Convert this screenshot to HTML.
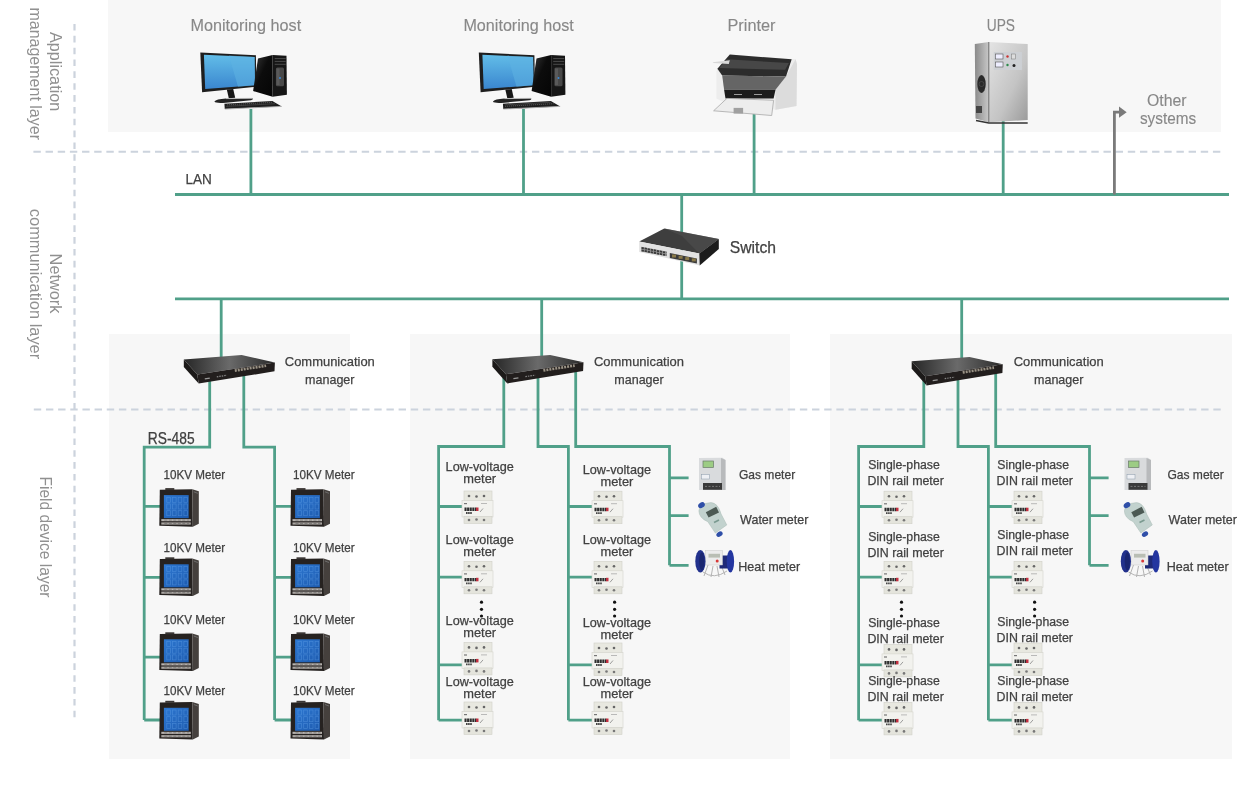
<!DOCTYPE html>
<html><head><meta charset="utf-8"><title>Energy management system architecture</title>
<style>
html,body{margin:0;padding:0;background:#fff;}
body{width:1255px;height:787px;overflow:hidden;font-family:"Liberation Sans",sans-serif;}
svg{display:block;will-change:transform;}
</style></head><body>
<svg width="1255" height="787" viewBox="0 0 1255 787">

<defs>
<linearGradient id="scr" x1="0" y1="0" x2="0" y2="1">
  <stop offset="0" stop-color="#62bde8"/><stop offset="1" stop-color="#3a86cf"/>
</linearGradient>
<linearGradient id="mscr" x1="0" y1="0" x2="1" y2="1">
  <stop offset="0" stop-color="#2d78d2"/><stop offset="1" stop-color="#1d5aae"/>
</linearGradient>
<linearGradient id="cmtop" x1="0" y1="0" x2="1" y2="0">
  <stop offset="0" stop-color="#262626"/><stop offset="0.5" stop-color="#6a6a6a"/><stop offset="1" stop-color="#2a2a2a"/>
</linearGradient>
<linearGradient id="tower" x1="0" y1="0" x2="1" y2="1">
  <stop offset="0" stop-color="#3a3a3a"/><stop offset="0.45" stop-color="#0c0c0c"/><stop offset="1" stop-color="#050505"/>
</linearGradient>
<linearGradient id="upsf" x1="0" y1="0" x2="1" y2="1">
  <stop offset="0" stop-color="#e4e4e4"/><stop offset="0.6" stop-color="#c4c4c4"/><stop offset="1" stop-color="#9a9a9a"/>
</linearGradient>
<linearGradient id="upss" x1="0" y1="0" x2="1" y2="0">
  <stop offset="0" stop-color="#8a8a8a"/><stop offset="1" stop-color="#c8c8c8"/>
</linearGradient>



</defs>

<rect x="108" y="0" width="1113" height="132" fill="#f7f7f7"/>
<rect x="109" y="334" width="241" height="425" fill="#f7f7f7"/>
<rect x="410" y="334" width="380" height="425" fill="#f7f7f7"/>
<rect x="830" y="334" width="402" height="425" fill="#f7f7f7"/>
<path d="M33.4 151.8H1221M33.8 409.6H1221" stroke="#ccd3dd" stroke-width="2" stroke-dasharray="7.4 4.76" fill="none"/>
<path d="M74.5 24V717.7" stroke="#ccd3dd" stroke-width="2.2" stroke-dasharray="6.6 5.24" fill="none"/>
<path d="M175 194.5H1229 M175 298.8H1229 M250.9 109V194.5 M523.5 109V194.5 M754.1 114V194.5 M1003.2 121V194.5 M681.7 194.5V298.8 M221.2 298.8V360 M209.7 378V447.1H144.2V720 M243.8 372V447.1H274.6V720 M144.2 506.3H160 M274.6 506.3H291 M144.2 577.3H160 M274.6 577.3H291 M144.2 657.2H160 M274.6 657.2H291 M144.2 720H160 M274.6 720H291 M541.7 298.8V360 M503.8 378V446.5H438.6V720.2 M538 372V446.5H568.4V720.2 M575.7 370V446.5H669.5V565.3 M438.6 506.5H462 M568.4 506.5H592 M438.6 577.1H462 M568.4 577.1H592 M438.6 664.8H462 M568.4 664.8H592 M438.6 720.2H462 M568.4 720.2H592 M669.5 477.8H688.6 M669.5 515.7H688.6 M669.5 565.3H688.6 M961.7 298.8V360 M923.8 378V446.5H858.6V720.2 M958 372V446.5H988.4V720.2 M995.7 370V446.5H1089.5V565.3 M858.6 506.5H882 M988.4 506.5H1012 M858.6 577.1H882 M988.4 577.1H1012 M858.6 664.8H882 M988.4 664.8H1012 M858.6 720.2H882 M988.4 720.2H1012 M1089.5 477.8H1108.6 M1089.5 515.7H1108.6 M1089.5 565.3H1108.6" stroke="#50a089" stroke-width="2.8" fill="none"/>
<path d="M1114.4 194.5V112.2H1119.5" stroke="#7a7a7a" stroke-width="2.8" fill="none"/>
<polygon points="1119,106.4 1126.7,112.2 1119,117.8" fill="#7a7a7a"/>
<g transform="translate(0,0)">
<polygon points="200.3,52.6 255.9,55.2 256.4,86.8 202.1,92.2" fill="#1e1e1e"/>
<polygon points="203.9,54.8 254.6,57 255,85.3 205.2,89" fill="url(#scr)"/>
<polygon points="229,55.6 254.6,57 255,85.3 238,86.8" fill="#5fb3e2" opacity="0.55"/>
<polygon points="226.8,89.6 233.2,89.1 235.2,97.8 228.8,98.3" fill="#161616"/>
<path d="M214.3 101.8 Q216 99.2 226 98.6 L252.5 98.3 Q253.5 99.6 251 100.3 L226 102.7 Q216 103.5 214.3 101.8Z" fill="#232323"/>
<path d="M226 98.6 L252.5 98.3" stroke="#c8c8c8" stroke-width="0.8" fill="none"/>
<polygon points="258,58.6 272.6,54.9 272.6,96.8 253.1,91.1" fill="url(#tower)"/>
<polygon points="272.6,54.9 286.5,55.7 286.9,94.7 272.6,96.8" fill="#161616"/>
<path d="M274.7 58.6H285.7M274.7 61.4H285.7M274.7 64.3H285.7" stroke="#4a4a4a" stroke-width="1" fill="none"/>
<rect x="275.9" y="67.5" width="8.1" height="18.7" rx="1.5" fill="#484848"/>
<rect x="276.5" y="68.5" width="3" height="16.5" fill="#5a5a5a"/>
<circle cx="280" cy="78.1" r="1" fill="#3a8ad8"/>
<polygon points="224.4,103.7 272.4,101 281.7,106.4 224.8,109.1" fill="#1e1e1e"/>
<path d="M227 104.8 L272 102.3 M226.5 106.3 L275 103.7" stroke="#777" stroke-width="0.6" stroke-dasharray="1.2 0.8" fill="none"/>
<path d="M224.8 109.1 L281.7 106.4" stroke="#b0b0b0" stroke-width="0.9" fill="none"/>
</g>
<g transform="translate(278.5,0)">
<polygon points="200.3,52.6 255.9,55.2 256.4,86.8 202.1,92.2" fill="#1e1e1e"/>
<polygon points="203.9,54.8 254.6,57 255,85.3 205.2,89" fill="url(#scr)"/>
<polygon points="229,55.6 254.6,57 255,85.3 238,86.8" fill="#5fb3e2" opacity="0.55"/>
<polygon points="226.8,89.6 233.2,89.1 235.2,97.8 228.8,98.3" fill="#161616"/>
<path d="M214.3 101.8 Q216 99.2 226 98.6 L252.5 98.3 Q253.5 99.6 251 100.3 L226 102.7 Q216 103.5 214.3 101.8Z" fill="#232323"/>
<path d="M226 98.6 L252.5 98.3" stroke="#c8c8c8" stroke-width="0.8" fill="none"/>
<polygon points="258,58.6 272.6,54.9 272.6,96.8 253.1,91.1" fill="url(#tower)"/>
<polygon points="272.6,54.9 286.5,55.7 286.9,94.7 272.6,96.8" fill="#161616"/>
<path d="M274.7 58.6H285.7M274.7 61.4H285.7M274.7 64.3H285.7" stroke="#4a4a4a" stroke-width="1" fill="none"/>
<rect x="275.9" y="67.5" width="8.1" height="18.7" rx="1.5" fill="#484848"/>
<rect x="276.5" y="68.5" width="3" height="16.5" fill="#5a5a5a"/>
<circle cx="280" cy="78.1" r="1" fill="#3a8ad8"/>
<polygon points="224.4,103.7 272.4,101 281.7,106.4 224.8,109.1" fill="#1e1e1e"/>
<path d="M227 104.8 L272 102.3 M226.5 106.3 L275 103.7" stroke="#777" stroke-width="0.6" stroke-dasharray="1.2 0.8" fill="none"/>
<path d="M224.8 109.1 L281.7 106.4" stroke="#b0b0b0" stroke-width="0.9" fill="none"/>
</g>
<g>
<polygon points="716.4,71.7 717.4,68.8 729.8,54.5 795.6,59.3 797,64.1 796.5,106 775.5,109.8 724.1,102.2 716.4,98.4" fill="#ededed"/>
<polygon points="786,76.5 795.6,59.3 797,64.1 796.5,106 775.5,109.8 775.5,89.8" fill="#dcdcdc"/>
<polygon points="717.4,68.8 729.8,54.5 791.7,59.3 786,76.5 722.2,75.5" fill="#2c2c2c"/>
<polygon points="719.3,67.9 726.9,59.3 788.9,63.1 785.1,69.8" fill="#474747"/>
<polygon points="712.6,62.2 729.8,60.3 728.8,64.1 713.6,63.1" fill="#d8d8d8"/>
<polygon points="722.2,75.5 786,76.5 775.5,89.8 724.1,89.8" fill="#656565"/>
<polygon points="724.1,89.8 775.5,89.8 773.6,98.4 725.5,98.4" fill="#1c1c1c"/>
<path d="M734 94.5H742M754 94.5H762" stroke="#9a9a9a" stroke-width="1.2"/>
<polygon points="713.6,110.8 726.9,98.4 773.6,100.3 771.7,115.5" fill="#ededed" stroke="#a8a8a8" stroke-width="0.8"/>
<rect x="733.6" y="107.9" width="9.5" height="5.7" fill="#a0a0a0"/>
</g>
<g>
<polygon points="974.8,44 988.8,42 988.8,122.3 975.5,118.5" fill="url(#upss)"/>
<polygon points="988.8,42 1027.7,44 1027.7,120 988.8,122.3" fill="url(#upsf)"/>
<rect x="993.8" y="52" width="28.1" height="18" fill="#cdd0d4"/>
<rect x="995.5" y="54" width="7.5" height="5" fill="#eef" stroke="#555" stroke-width="0.6"/>
<rect x="995.5" y="62" width="7.5" height="5" fill="#eef" stroke="#555" stroke-width="0.6"/>
<circle cx="1007.5" cy="56.5" r="1.2" fill="#c33"/>
<circle cx="1007.5" cy="65" r="1.2" fill="#2a8a4a"/>
<circle cx="1014" cy="65.5" r="1.5" fill="#222"/>
<rect x="1011.5" y="54" width="4" height="5" fill="#ddd" stroke="#777" stroke-width="0.5"/>
<ellipse cx="981.5" cy="84" rx="4.2" ry="9" fill="#2a2a2a"/>
<rect x="976" y="106" width="6" height="7" fill="#444"/>
<path d="M988.8 42V122.3" stroke="#6a6a6a" stroke-width="1"/>
<circle cx="981.5" cy="84" r="2.5" fill="none" stroke="#555" stroke-width="0.6"/>
<path d="M976 120.5L988.8 123H1027.7" stroke="#333" stroke-width="1.5" fill="none"/>
</g>
<g>
<polygon points="639.2,241.5 664.3,228.4 718.8,239.1 699.3,253.5" fill="#3e3e3e"/>
<polygon points="664.3,228.4 718.8,239.1 699.3,253.5 682,236" fill="#505050" opacity="0.55"/>
<polygon points="639.2,241.5 699.3,253.5 699.7,265.4 639.2,251.9" fill="#e2e2e2"/>
<polygon points="699.3,253.5 718.8,239.1 718.8,249.1 699.7,265.4" fill="#1c1c1c"/>
<polygon points="641.2,246.7 666.7,251.6 666.7,256.3 641.2,251.4" fill="#9a9a9a"/>
<path d="M641.6 247.9 L666.4 252.7 M641.6 250.4 L666.4 255.2" stroke="#3a3a3a" stroke-width="1.8" stroke-dasharray="2.3 0.8" fill="none"/>
<polygon points="669.8,253 696.9,258.5 696.9,263.4 669.8,258" fill="#3a3a3a"/>
<rect x="672.0" y="254.5" width="4" height="3" fill="#8a7a4a"/>
<rect x="678.6" y="255.8" width="4" height="3" fill="#8a7a4a"/>
<rect x="685.2" y="257.1" width="4" height="3" fill="#8a7a4a"/>
<rect x="691.8" y="258.4" width="4" height="3" fill="#8a7a4a"/>
</g>
<g transform="translate(183.8,355)"><polygon points="0,4.5 57.8,0.1 91.1,7.5 13.5,19.4" fill="url(#cmtop)"/><polygon points="0,4.5 13.5,19.4 14.9,28.6 0,12" fill="#1c1a19"/><polygon points="13.5,19.4 91.1,7.5 90.7,16.3 14.9,28.6" fill="#221e1d"/><path d="M51 15.6 L82.3 10.8" stroke="#b8b0a0" stroke-width="2.6" stroke-dasharray="2 1" opacity="0.8"/><path d="M21 23.8 L26 23.1" stroke="#999" stroke-width="1.3"/><path d="M33 21.8 L43 20.3" stroke="#888" stroke-width="1.2" stroke-dasharray="1.5 1"/></g>
<g transform="translate(492.4,354.8)"><polygon points="0,4.5 57.8,0.1 91.1,7.5 13.5,19.4" fill="url(#cmtop)"/><polygon points="0,4.5 13.5,19.4 14.9,28.6 0,12" fill="#1c1a19"/><polygon points="13.5,19.4 91.1,7.5 90.7,16.3 14.9,28.6" fill="#221e1d"/><path d="M51 15.6 L82.3 10.8" stroke="#b8b0a0" stroke-width="2.6" stroke-dasharray="2 1" opacity="0.8"/><path d="M21 23.8 L26 23.1" stroke="#999" stroke-width="1.3"/><path d="M33 21.8 L43 20.3" stroke="#888" stroke-width="1.2" stroke-dasharray="1.5 1"/></g>
<g transform="translate(911.7,356.8)"><polygon points="0,4.5 57.8,0.1 91.1,7.5 13.5,19.4" fill="url(#cmtop)"/><polygon points="0,4.5 13.5,19.4 14.9,28.6 0,12" fill="#1c1a19"/><polygon points="13.5,19.4 91.1,7.5 90.7,16.3 14.9,28.6" fill="#221e1d"/><path d="M51 15.6 L82.3 10.8" stroke="#b8b0a0" stroke-width="2.6" stroke-dasharray="2 1" opacity="0.8"/><path d="M21 23.8 L26 23.1" stroke="#999" stroke-width="1.3"/><path d="M33 21.8 L43 20.3" stroke="#888" stroke-width="1.2" stroke-dasharray="1.5 1"/></g>
<g transform="translate(159.3,487.8)"><polygon points="0.5,2 33,1.5 33.5,39 0,38" fill="#262220"/><polygon points="33,1.5 39.5,3.5 39.5,36 33.5,39" fill="#45403d"/><path d="M34.5 4 L38.5 5.5" stroke="#777" stroke-width="0.8"/><rect x="4.6" y="7.3" width="24.8" height="23" fill="url(#mscr)"/><rect x="7.5" y="9.5" width="3.6" height="5" fill="none" stroke="#6aa8ee" stroke-width="0.7" opacity="0.45"/><rect x="13.2" y="9.5" width="3.6" height="5" fill="none" stroke="#6aa8ee" stroke-width="0.7" opacity="0.45"/><rect x="18.9" y="9.5" width="3.6" height="5" fill="none" stroke="#6aa8ee" stroke-width="0.7" opacity="0.45"/><rect x="24.6" y="9.5" width="3.6" height="5" fill="none" stroke="#6aa8ee" stroke-width="0.7" opacity="0.45"/><rect x="7.5" y="16.2" width="3.6" height="5" fill="none" stroke="#6aa8ee" stroke-width="0.7" opacity="0.45"/><rect x="13.2" y="16.2" width="3.6" height="5" fill="none" stroke="#6aa8ee" stroke-width="0.7" opacity="0.45"/><rect x="18.9" y="16.2" width="3.6" height="5" fill="none" stroke="#6aa8ee" stroke-width="0.7" opacity="0.45"/><rect x="24.6" y="16.2" width="3.6" height="5" fill="none" stroke="#6aa8ee" stroke-width="0.7" opacity="0.45"/><rect x="7.5" y="22.9" width="3.6" height="5" fill="none" stroke="#6aa8ee" stroke-width="0.7" opacity="0.45"/><rect x="13.2" y="22.9" width="3.6" height="5" fill="none" stroke="#6aa8ee" stroke-width="0.7" opacity="0.45"/><rect x="18.9" y="22.9" width="3.6" height="5" fill="none" stroke="#6aa8ee" stroke-width="0.7" opacity="0.45"/><rect x="24.6" y="22.9" width="3.6" height="5" fill="none" stroke="#6aa8ee" stroke-width="0.7" opacity="0.45"/><polygon points="2,31.3 31.5,31.3 31.5,33.4 2,33.4" fill="#b8b4b0"/><polygon points="2,34.6 31.5,34.6 31.5,36.8 2,36.8" fill="#aaa6a2"/><path d="M5 32.3H30 M5 35.7H30" stroke="#555" stroke-width="0.5" stroke-dasharray="3 1.5"/><rect x="6" y="0.3" width="9" height="2" fill="#3a3634"/></g>
<g transform="translate(159.3,557)"><polygon points="0.5,2 33,1.5 33.5,39 0,38" fill="#262220"/><polygon points="33,1.5 39.5,3.5 39.5,36 33.5,39" fill="#45403d"/><path d="M34.5 4 L38.5 5.5" stroke="#777" stroke-width="0.8"/><rect x="4.6" y="7.3" width="24.8" height="23" fill="url(#mscr)"/><rect x="7.5" y="9.5" width="3.6" height="5" fill="none" stroke="#6aa8ee" stroke-width="0.7" opacity="0.45"/><rect x="13.2" y="9.5" width="3.6" height="5" fill="none" stroke="#6aa8ee" stroke-width="0.7" opacity="0.45"/><rect x="18.9" y="9.5" width="3.6" height="5" fill="none" stroke="#6aa8ee" stroke-width="0.7" opacity="0.45"/><rect x="24.6" y="9.5" width="3.6" height="5" fill="none" stroke="#6aa8ee" stroke-width="0.7" opacity="0.45"/><rect x="7.5" y="16.2" width="3.6" height="5" fill="none" stroke="#6aa8ee" stroke-width="0.7" opacity="0.45"/><rect x="13.2" y="16.2" width="3.6" height="5" fill="none" stroke="#6aa8ee" stroke-width="0.7" opacity="0.45"/><rect x="18.9" y="16.2" width="3.6" height="5" fill="none" stroke="#6aa8ee" stroke-width="0.7" opacity="0.45"/><rect x="24.6" y="16.2" width="3.6" height="5" fill="none" stroke="#6aa8ee" stroke-width="0.7" opacity="0.45"/><rect x="7.5" y="22.9" width="3.6" height="5" fill="none" stroke="#6aa8ee" stroke-width="0.7" opacity="0.45"/><rect x="13.2" y="22.9" width="3.6" height="5" fill="none" stroke="#6aa8ee" stroke-width="0.7" opacity="0.45"/><rect x="18.9" y="22.9" width="3.6" height="5" fill="none" stroke="#6aa8ee" stroke-width="0.7" opacity="0.45"/><rect x="24.6" y="22.9" width="3.6" height="5" fill="none" stroke="#6aa8ee" stroke-width="0.7" opacity="0.45"/><polygon points="2,31.3 31.5,31.3 31.5,33.4 2,33.4" fill="#b8b4b0"/><polygon points="2,34.6 31.5,34.6 31.5,36.8 2,36.8" fill="#aaa6a2"/><path d="M5 32.3H30 M5 35.7H30" stroke="#555" stroke-width="0.5" stroke-dasharray="3 1.5"/><rect x="6" y="0.3" width="9" height="2" fill="#3a3634"/></g>
<g transform="translate(159.3,632)"><polygon points="0.5,2 33,1.5 33.5,39 0,38" fill="#262220"/><polygon points="33,1.5 39.5,3.5 39.5,36 33.5,39" fill="#45403d"/><path d="M34.5 4 L38.5 5.5" stroke="#777" stroke-width="0.8"/><rect x="4.6" y="7.3" width="24.8" height="23" fill="url(#mscr)"/><rect x="7.5" y="9.5" width="3.6" height="5" fill="none" stroke="#6aa8ee" stroke-width="0.7" opacity="0.45"/><rect x="13.2" y="9.5" width="3.6" height="5" fill="none" stroke="#6aa8ee" stroke-width="0.7" opacity="0.45"/><rect x="18.9" y="9.5" width="3.6" height="5" fill="none" stroke="#6aa8ee" stroke-width="0.7" opacity="0.45"/><rect x="24.6" y="9.5" width="3.6" height="5" fill="none" stroke="#6aa8ee" stroke-width="0.7" opacity="0.45"/><rect x="7.5" y="16.2" width="3.6" height="5" fill="none" stroke="#6aa8ee" stroke-width="0.7" opacity="0.45"/><rect x="13.2" y="16.2" width="3.6" height="5" fill="none" stroke="#6aa8ee" stroke-width="0.7" opacity="0.45"/><rect x="18.9" y="16.2" width="3.6" height="5" fill="none" stroke="#6aa8ee" stroke-width="0.7" opacity="0.45"/><rect x="24.6" y="16.2" width="3.6" height="5" fill="none" stroke="#6aa8ee" stroke-width="0.7" opacity="0.45"/><rect x="7.5" y="22.9" width="3.6" height="5" fill="none" stroke="#6aa8ee" stroke-width="0.7" opacity="0.45"/><rect x="13.2" y="22.9" width="3.6" height="5" fill="none" stroke="#6aa8ee" stroke-width="0.7" opacity="0.45"/><rect x="18.9" y="22.9" width="3.6" height="5" fill="none" stroke="#6aa8ee" stroke-width="0.7" opacity="0.45"/><rect x="24.6" y="22.9" width="3.6" height="5" fill="none" stroke="#6aa8ee" stroke-width="0.7" opacity="0.45"/><polygon points="2,31.3 31.5,31.3 31.5,33.4 2,33.4" fill="#b8b4b0"/><polygon points="2,34.6 31.5,34.6 31.5,36.8 2,36.8" fill="#aaa6a2"/><path d="M5 32.3H30 M5 35.7H30" stroke="#555" stroke-width="0.5" stroke-dasharray="3 1.5"/><rect x="6" y="0.3" width="9" height="2" fill="#3a3634"/></g>
<g transform="translate(159.3,700.5)"><polygon points="0.5,2 33,1.5 33.5,39 0,38" fill="#262220"/><polygon points="33,1.5 39.5,3.5 39.5,36 33.5,39" fill="#45403d"/><path d="M34.5 4 L38.5 5.5" stroke="#777" stroke-width="0.8"/><rect x="4.6" y="7.3" width="24.8" height="23" fill="url(#mscr)"/><rect x="7.5" y="9.5" width="3.6" height="5" fill="none" stroke="#6aa8ee" stroke-width="0.7" opacity="0.45"/><rect x="13.2" y="9.5" width="3.6" height="5" fill="none" stroke="#6aa8ee" stroke-width="0.7" opacity="0.45"/><rect x="18.9" y="9.5" width="3.6" height="5" fill="none" stroke="#6aa8ee" stroke-width="0.7" opacity="0.45"/><rect x="24.6" y="9.5" width="3.6" height="5" fill="none" stroke="#6aa8ee" stroke-width="0.7" opacity="0.45"/><rect x="7.5" y="16.2" width="3.6" height="5" fill="none" stroke="#6aa8ee" stroke-width="0.7" opacity="0.45"/><rect x="13.2" y="16.2" width="3.6" height="5" fill="none" stroke="#6aa8ee" stroke-width="0.7" opacity="0.45"/><rect x="18.9" y="16.2" width="3.6" height="5" fill="none" stroke="#6aa8ee" stroke-width="0.7" opacity="0.45"/><rect x="24.6" y="16.2" width="3.6" height="5" fill="none" stroke="#6aa8ee" stroke-width="0.7" opacity="0.45"/><rect x="7.5" y="22.9" width="3.6" height="5" fill="none" stroke="#6aa8ee" stroke-width="0.7" opacity="0.45"/><rect x="13.2" y="22.9" width="3.6" height="5" fill="none" stroke="#6aa8ee" stroke-width="0.7" opacity="0.45"/><rect x="18.9" y="22.9" width="3.6" height="5" fill="none" stroke="#6aa8ee" stroke-width="0.7" opacity="0.45"/><rect x="24.6" y="22.9" width="3.6" height="5" fill="none" stroke="#6aa8ee" stroke-width="0.7" opacity="0.45"/><polygon points="2,31.3 31.5,31.3 31.5,33.4 2,33.4" fill="#b8b4b0"/><polygon points="2,34.6 31.5,34.6 31.5,36.8 2,36.8" fill="#aaa6a2"/><path d="M5 32.3H30 M5 35.7H30" stroke="#555" stroke-width="0.5" stroke-dasharray="3 1.5"/><rect x="6" y="0.3" width="9" height="2" fill="#3a3634"/></g>
<g transform="translate(290.5,487.8)"><polygon points="0.5,2 33,1.5 33.5,39 0,38" fill="#262220"/><polygon points="33,1.5 39.5,3.5 39.5,36 33.5,39" fill="#45403d"/><path d="M34.5 4 L38.5 5.5" stroke="#777" stroke-width="0.8"/><rect x="4.6" y="7.3" width="24.8" height="23" fill="url(#mscr)"/><rect x="7.5" y="9.5" width="3.6" height="5" fill="none" stroke="#6aa8ee" stroke-width="0.7" opacity="0.45"/><rect x="13.2" y="9.5" width="3.6" height="5" fill="none" stroke="#6aa8ee" stroke-width="0.7" opacity="0.45"/><rect x="18.9" y="9.5" width="3.6" height="5" fill="none" stroke="#6aa8ee" stroke-width="0.7" opacity="0.45"/><rect x="24.6" y="9.5" width="3.6" height="5" fill="none" stroke="#6aa8ee" stroke-width="0.7" opacity="0.45"/><rect x="7.5" y="16.2" width="3.6" height="5" fill="none" stroke="#6aa8ee" stroke-width="0.7" opacity="0.45"/><rect x="13.2" y="16.2" width="3.6" height="5" fill="none" stroke="#6aa8ee" stroke-width="0.7" opacity="0.45"/><rect x="18.9" y="16.2" width="3.6" height="5" fill="none" stroke="#6aa8ee" stroke-width="0.7" opacity="0.45"/><rect x="24.6" y="16.2" width="3.6" height="5" fill="none" stroke="#6aa8ee" stroke-width="0.7" opacity="0.45"/><rect x="7.5" y="22.9" width="3.6" height="5" fill="none" stroke="#6aa8ee" stroke-width="0.7" opacity="0.45"/><rect x="13.2" y="22.9" width="3.6" height="5" fill="none" stroke="#6aa8ee" stroke-width="0.7" opacity="0.45"/><rect x="18.9" y="22.9" width="3.6" height="5" fill="none" stroke="#6aa8ee" stroke-width="0.7" opacity="0.45"/><rect x="24.6" y="22.9" width="3.6" height="5" fill="none" stroke="#6aa8ee" stroke-width="0.7" opacity="0.45"/><polygon points="2,31.3 31.5,31.3 31.5,33.4 2,33.4" fill="#b8b4b0"/><polygon points="2,34.6 31.5,34.6 31.5,36.8 2,36.8" fill="#aaa6a2"/><path d="M5 32.3H30 M5 35.7H30" stroke="#555" stroke-width="0.5" stroke-dasharray="3 1.5"/><rect x="6" y="0.3" width="9" height="2" fill="#3a3634"/></g>
<g transform="translate(290.5,557)"><polygon points="0.5,2 33,1.5 33.5,39 0,38" fill="#262220"/><polygon points="33,1.5 39.5,3.5 39.5,36 33.5,39" fill="#45403d"/><path d="M34.5 4 L38.5 5.5" stroke="#777" stroke-width="0.8"/><rect x="4.6" y="7.3" width="24.8" height="23" fill="url(#mscr)"/><rect x="7.5" y="9.5" width="3.6" height="5" fill="none" stroke="#6aa8ee" stroke-width="0.7" opacity="0.45"/><rect x="13.2" y="9.5" width="3.6" height="5" fill="none" stroke="#6aa8ee" stroke-width="0.7" opacity="0.45"/><rect x="18.9" y="9.5" width="3.6" height="5" fill="none" stroke="#6aa8ee" stroke-width="0.7" opacity="0.45"/><rect x="24.6" y="9.5" width="3.6" height="5" fill="none" stroke="#6aa8ee" stroke-width="0.7" opacity="0.45"/><rect x="7.5" y="16.2" width="3.6" height="5" fill="none" stroke="#6aa8ee" stroke-width="0.7" opacity="0.45"/><rect x="13.2" y="16.2" width="3.6" height="5" fill="none" stroke="#6aa8ee" stroke-width="0.7" opacity="0.45"/><rect x="18.9" y="16.2" width="3.6" height="5" fill="none" stroke="#6aa8ee" stroke-width="0.7" opacity="0.45"/><rect x="24.6" y="16.2" width="3.6" height="5" fill="none" stroke="#6aa8ee" stroke-width="0.7" opacity="0.45"/><rect x="7.5" y="22.9" width="3.6" height="5" fill="none" stroke="#6aa8ee" stroke-width="0.7" opacity="0.45"/><rect x="13.2" y="22.9" width="3.6" height="5" fill="none" stroke="#6aa8ee" stroke-width="0.7" opacity="0.45"/><rect x="18.9" y="22.9" width="3.6" height="5" fill="none" stroke="#6aa8ee" stroke-width="0.7" opacity="0.45"/><rect x="24.6" y="22.9" width="3.6" height="5" fill="none" stroke="#6aa8ee" stroke-width="0.7" opacity="0.45"/><polygon points="2,31.3 31.5,31.3 31.5,33.4 2,33.4" fill="#b8b4b0"/><polygon points="2,34.6 31.5,34.6 31.5,36.8 2,36.8" fill="#aaa6a2"/><path d="M5 32.3H30 M5 35.7H30" stroke="#555" stroke-width="0.5" stroke-dasharray="3 1.5"/><rect x="6" y="0.3" width="9" height="2" fill="#3a3634"/></g>
<g transform="translate(290.5,632)"><polygon points="0.5,2 33,1.5 33.5,39 0,38" fill="#262220"/><polygon points="33,1.5 39.5,3.5 39.5,36 33.5,39" fill="#45403d"/><path d="M34.5 4 L38.5 5.5" stroke="#777" stroke-width="0.8"/><rect x="4.6" y="7.3" width="24.8" height="23" fill="url(#mscr)"/><rect x="7.5" y="9.5" width="3.6" height="5" fill="none" stroke="#6aa8ee" stroke-width="0.7" opacity="0.45"/><rect x="13.2" y="9.5" width="3.6" height="5" fill="none" stroke="#6aa8ee" stroke-width="0.7" opacity="0.45"/><rect x="18.9" y="9.5" width="3.6" height="5" fill="none" stroke="#6aa8ee" stroke-width="0.7" opacity="0.45"/><rect x="24.6" y="9.5" width="3.6" height="5" fill="none" stroke="#6aa8ee" stroke-width="0.7" opacity="0.45"/><rect x="7.5" y="16.2" width="3.6" height="5" fill="none" stroke="#6aa8ee" stroke-width="0.7" opacity="0.45"/><rect x="13.2" y="16.2" width="3.6" height="5" fill="none" stroke="#6aa8ee" stroke-width="0.7" opacity="0.45"/><rect x="18.9" y="16.2" width="3.6" height="5" fill="none" stroke="#6aa8ee" stroke-width="0.7" opacity="0.45"/><rect x="24.6" y="16.2" width="3.6" height="5" fill="none" stroke="#6aa8ee" stroke-width="0.7" opacity="0.45"/><rect x="7.5" y="22.9" width="3.6" height="5" fill="none" stroke="#6aa8ee" stroke-width="0.7" opacity="0.45"/><rect x="13.2" y="22.9" width="3.6" height="5" fill="none" stroke="#6aa8ee" stroke-width="0.7" opacity="0.45"/><rect x="18.9" y="22.9" width="3.6" height="5" fill="none" stroke="#6aa8ee" stroke-width="0.7" opacity="0.45"/><rect x="24.6" y="22.9" width="3.6" height="5" fill="none" stroke="#6aa8ee" stroke-width="0.7" opacity="0.45"/><polygon points="2,31.3 31.5,31.3 31.5,33.4 2,33.4" fill="#b8b4b0"/><polygon points="2,34.6 31.5,34.6 31.5,36.8 2,36.8" fill="#aaa6a2"/><path d="M5 32.3H30 M5 35.7H30" stroke="#555" stroke-width="0.5" stroke-dasharray="3 1.5"/><rect x="6" y="0.3" width="9" height="2" fill="#3a3634"/></g>
<g transform="translate(290.5,700.5)"><polygon points="0.5,2 33,1.5 33.5,39 0,38" fill="#262220"/><polygon points="33,1.5 39.5,3.5 39.5,36 33.5,39" fill="#45403d"/><path d="M34.5 4 L38.5 5.5" stroke="#777" stroke-width="0.8"/><rect x="4.6" y="7.3" width="24.8" height="23" fill="url(#mscr)"/><rect x="7.5" y="9.5" width="3.6" height="5" fill="none" stroke="#6aa8ee" stroke-width="0.7" opacity="0.45"/><rect x="13.2" y="9.5" width="3.6" height="5" fill="none" stroke="#6aa8ee" stroke-width="0.7" opacity="0.45"/><rect x="18.9" y="9.5" width="3.6" height="5" fill="none" stroke="#6aa8ee" stroke-width="0.7" opacity="0.45"/><rect x="24.6" y="9.5" width="3.6" height="5" fill="none" stroke="#6aa8ee" stroke-width="0.7" opacity="0.45"/><rect x="7.5" y="16.2" width="3.6" height="5" fill="none" stroke="#6aa8ee" stroke-width="0.7" opacity="0.45"/><rect x="13.2" y="16.2" width="3.6" height="5" fill="none" stroke="#6aa8ee" stroke-width="0.7" opacity="0.45"/><rect x="18.9" y="16.2" width="3.6" height="5" fill="none" stroke="#6aa8ee" stroke-width="0.7" opacity="0.45"/><rect x="24.6" y="16.2" width="3.6" height="5" fill="none" stroke="#6aa8ee" stroke-width="0.7" opacity="0.45"/><rect x="7.5" y="22.9" width="3.6" height="5" fill="none" stroke="#6aa8ee" stroke-width="0.7" opacity="0.45"/><rect x="13.2" y="22.9" width="3.6" height="5" fill="none" stroke="#6aa8ee" stroke-width="0.7" opacity="0.45"/><rect x="18.9" y="22.9" width="3.6" height="5" fill="none" stroke="#6aa8ee" stroke-width="0.7" opacity="0.45"/><rect x="24.6" y="22.9" width="3.6" height="5" fill="none" stroke="#6aa8ee" stroke-width="0.7" opacity="0.45"/><polygon points="2,31.3 31.5,31.3 31.5,33.4 2,33.4" fill="#b8b4b0"/><polygon points="2,34.6 31.5,34.6 31.5,36.8 2,36.8" fill="#aaa6a2"/><path d="M5 32.3H30 M5 35.7H30" stroke="#555" stroke-width="0.5" stroke-dasharray="3 1.5"/><rect x="6" y="0.3" width="9" height="2" fill="#3a3634"/></g>
<g transform="translate(462,490.5)"><rect x="2" y="0.5" width="28" height="10" fill="#e8e8e0" stroke="#d0d0c8" stroke-width="0.6"/><rect x="0" y="10" width="31" height="16.5" fill="#f2f2ee" stroke="#d4d4cc" stroke-width="0.6"/><rect x="2" y="26" width="28" height="7" fill="#e4e4dc" stroke="#d0d0c8" stroke-width="0.6"/><circle cx="7" cy="5.5" r="1.3" fill="#666"/><circle cx="14.5" cy="6" r="1.3" fill="#666"/><circle cx="22" cy="5.5" r="1.3" fill="#666"/><circle cx="7" cy="29.5" r="1.3" fill="#777"/><circle cx="14.5" cy="29" r="1.3" fill="#777"/><circle cx="22" cy="29.5" r="1.3" fill="#777"/><path d="M2.5 18.8H14.2" stroke="#2e2e2e" stroke-width="3.4" stroke-dasharray="2.1 0.5"/><rect x="14" y="17" width="2.5" height="3.5" fill="#c03040"/><path d="M4 22.5H10" stroke="#444" stroke-width="1.8" stroke-dasharray="1.6 0.5"/><path d="M18 21.5L21 18" stroke="#777" stroke-width="0.7"/><path d="M19 13H25" stroke="#aaa" stroke-width="0.8"/><rect x="2" y="12.5" width="3" height="1.2" fill="#777"/></g>
<g transform="translate(462,560.8)"><rect x="2" y="0.5" width="28" height="10" fill="#e8e8e0" stroke="#d0d0c8" stroke-width="0.6"/><rect x="0" y="10" width="31" height="16.5" fill="#f2f2ee" stroke="#d4d4cc" stroke-width="0.6"/><rect x="2" y="26" width="28" height="7" fill="#e4e4dc" stroke="#d0d0c8" stroke-width="0.6"/><circle cx="7" cy="5.5" r="1.3" fill="#666"/><circle cx="14.5" cy="6" r="1.3" fill="#666"/><circle cx="22" cy="5.5" r="1.3" fill="#666"/><circle cx="7" cy="29.5" r="1.3" fill="#777"/><circle cx="14.5" cy="29" r="1.3" fill="#777"/><circle cx="22" cy="29.5" r="1.3" fill="#777"/><path d="M2.5 18.8H14.2" stroke="#2e2e2e" stroke-width="3.4" stroke-dasharray="2.1 0.5"/><rect x="14" y="17" width="2.5" height="3.5" fill="#c03040"/><path d="M4 22.5H10" stroke="#444" stroke-width="1.8" stroke-dasharray="1.6 0.5"/><path d="M18 21.5L21 18" stroke="#777" stroke-width="0.7"/><path d="M19 13H25" stroke="#aaa" stroke-width="0.8"/><rect x="2" y="12.5" width="3" height="1.2" fill="#777"/></g>
<g transform="translate(462,641.9)"><rect x="2" y="0.5" width="28" height="10" fill="#e8e8e0" stroke="#d0d0c8" stroke-width="0.6"/><rect x="0" y="10" width="31" height="16.5" fill="#f2f2ee" stroke="#d4d4cc" stroke-width="0.6"/><rect x="2" y="26" width="28" height="7" fill="#e4e4dc" stroke="#d0d0c8" stroke-width="0.6"/><circle cx="7" cy="5.5" r="1.3" fill="#666"/><circle cx="14.5" cy="6" r="1.3" fill="#666"/><circle cx="22" cy="5.5" r="1.3" fill="#666"/><circle cx="7" cy="29.5" r="1.3" fill="#777"/><circle cx="14.5" cy="29" r="1.3" fill="#777"/><circle cx="22" cy="29.5" r="1.3" fill="#777"/><path d="M2.5 18.8H14.2" stroke="#2e2e2e" stroke-width="3.4" stroke-dasharray="2.1 0.5"/><rect x="14" y="17" width="2.5" height="3.5" fill="#c03040"/><path d="M4 22.5H10" stroke="#444" stroke-width="1.8" stroke-dasharray="1.6 0.5"/><path d="M18 21.5L21 18" stroke="#777" stroke-width="0.7"/><path d="M19 13H25" stroke="#aaa" stroke-width="0.8"/><rect x="2" y="12.5" width="3" height="1.2" fill="#777"/></g>
<g transform="translate(462,701.5)"><rect x="2" y="0.5" width="28" height="10" fill="#e8e8e0" stroke="#d0d0c8" stroke-width="0.6"/><rect x="0" y="10" width="31" height="16.5" fill="#f2f2ee" stroke="#d4d4cc" stroke-width="0.6"/><rect x="2" y="26" width="28" height="7" fill="#e4e4dc" stroke="#d0d0c8" stroke-width="0.6"/><circle cx="7" cy="5.5" r="1.3" fill="#666"/><circle cx="14.5" cy="6" r="1.3" fill="#666"/><circle cx="22" cy="5.5" r="1.3" fill="#666"/><circle cx="7" cy="29.5" r="1.3" fill="#777"/><circle cx="14.5" cy="29" r="1.3" fill="#777"/><circle cx="22" cy="29.5" r="1.3" fill="#777"/><path d="M2.5 18.8H14.2" stroke="#2e2e2e" stroke-width="3.4" stroke-dasharray="2.1 0.5"/><rect x="14" y="17" width="2.5" height="3.5" fill="#c03040"/><path d="M4 22.5H10" stroke="#444" stroke-width="1.8" stroke-dasharray="1.6 0.5"/><path d="M18 21.5L21 18" stroke="#777" stroke-width="0.7"/><path d="M19 13H25" stroke="#aaa" stroke-width="0.8"/><rect x="2" y="12.5" width="3" height="1.2" fill="#777"/></g>
<g transform="translate(592,490.7)"><rect x="2" y="0.5" width="28" height="10" fill="#e8e8e0" stroke="#d0d0c8" stroke-width="0.6"/><rect x="0" y="10" width="31" height="16.5" fill="#f2f2ee" stroke="#d4d4cc" stroke-width="0.6"/><rect x="2" y="26" width="28" height="7" fill="#e4e4dc" stroke="#d0d0c8" stroke-width="0.6"/><circle cx="7" cy="5.5" r="1.3" fill="#666"/><circle cx="14.5" cy="6" r="1.3" fill="#666"/><circle cx="22" cy="5.5" r="1.3" fill="#666"/><circle cx="7" cy="29.5" r="1.3" fill="#777"/><circle cx="14.5" cy="29" r="1.3" fill="#777"/><circle cx="22" cy="29.5" r="1.3" fill="#777"/><path d="M2.5 18.8H14.2" stroke="#2e2e2e" stroke-width="3.4" stroke-dasharray="2.1 0.5"/><rect x="14" y="17" width="2.5" height="3.5" fill="#c03040"/><path d="M4 22.5H10" stroke="#444" stroke-width="1.8" stroke-dasharray="1.6 0.5"/><path d="M18 21.5L21 18" stroke="#777" stroke-width="0.7"/><path d="M19 13H25" stroke="#aaa" stroke-width="0.8"/><rect x="2" y="12.5" width="3" height="1.2" fill="#777"/></g>
<g transform="translate(592,560.8)"><rect x="2" y="0.5" width="28" height="10" fill="#e8e8e0" stroke="#d0d0c8" stroke-width="0.6"/><rect x="0" y="10" width="31" height="16.5" fill="#f2f2ee" stroke="#d4d4cc" stroke-width="0.6"/><rect x="2" y="26" width="28" height="7" fill="#e4e4dc" stroke="#d0d0c8" stroke-width="0.6"/><circle cx="7" cy="5.5" r="1.3" fill="#666"/><circle cx="14.5" cy="6" r="1.3" fill="#666"/><circle cx="22" cy="5.5" r="1.3" fill="#666"/><circle cx="7" cy="29.5" r="1.3" fill="#777"/><circle cx="14.5" cy="29" r="1.3" fill="#777"/><circle cx="22" cy="29.5" r="1.3" fill="#777"/><path d="M2.5 18.8H14.2" stroke="#2e2e2e" stroke-width="3.4" stroke-dasharray="2.1 0.5"/><rect x="14" y="17" width="2.5" height="3.5" fill="#c03040"/><path d="M4 22.5H10" stroke="#444" stroke-width="1.8" stroke-dasharray="1.6 0.5"/><path d="M18 21.5L21 18" stroke="#777" stroke-width="0.7"/><path d="M19 13H25" stroke="#aaa" stroke-width="0.8"/><rect x="2" y="12.5" width="3" height="1.2" fill="#777"/></g>
<g transform="translate(592,642.5)"><rect x="2" y="0.5" width="28" height="10" fill="#e8e8e0" stroke="#d0d0c8" stroke-width="0.6"/><rect x="0" y="10" width="31" height="16.5" fill="#f2f2ee" stroke="#d4d4cc" stroke-width="0.6"/><rect x="2" y="26" width="28" height="7" fill="#e4e4dc" stroke="#d0d0c8" stroke-width="0.6"/><circle cx="7" cy="5.5" r="1.3" fill="#666"/><circle cx="14.5" cy="6" r="1.3" fill="#666"/><circle cx="22" cy="5.5" r="1.3" fill="#666"/><circle cx="7" cy="29.5" r="1.3" fill="#777"/><circle cx="14.5" cy="29" r="1.3" fill="#777"/><circle cx="22" cy="29.5" r="1.3" fill="#777"/><path d="M2.5 18.8H14.2" stroke="#2e2e2e" stroke-width="3.4" stroke-dasharray="2.1 0.5"/><rect x="14" y="17" width="2.5" height="3.5" fill="#c03040"/><path d="M4 22.5H10" stroke="#444" stroke-width="1.8" stroke-dasharray="1.6 0.5"/><path d="M18 21.5L21 18" stroke="#777" stroke-width="0.7"/><path d="M19 13H25" stroke="#aaa" stroke-width="0.8"/><rect x="2" y="12.5" width="3" height="1.2" fill="#777"/></g>
<g transform="translate(592,701.5)"><rect x="2" y="0.5" width="28" height="10" fill="#e8e8e0" stroke="#d0d0c8" stroke-width="0.6"/><rect x="0" y="10" width="31" height="16.5" fill="#f2f2ee" stroke="#d4d4cc" stroke-width="0.6"/><rect x="2" y="26" width="28" height="7" fill="#e4e4dc" stroke="#d0d0c8" stroke-width="0.6"/><circle cx="7" cy="5.5" r="1.3" fill="#666"/><circle cx="14.5" cy="6" r="1.3" fill="#666"/><circle cx="22" cy="5.5" r="1.3" fill="#666"/><circle cx="7" cy="29.5" r="1.3" fill="#777"/><circle cx="14.5" cy="29" r="1.3" fill="#777"/><circle cx="22" cy="29.5" r="1.3" fill="#777"/><path d="M2.5 18.8H14.2" stroke="#2e2e2e" stroke-width="3.4" stroke-dasharray="2.1 0.5"/><rect x="14" y="17" width="2.5" height="3.5" fill="#c03040"/><path d="M4 22.5H10" stroke="#444" stroke-width="1.8" stroke-dasharray="1.6 0.5"/><path d="M18 21.5L21 18" stroke="#777" stroke-width="0.7"/><path d="M19 13H25" stroke="#aaa" stroke-width="0.8"/><rect x="2" y="12.5" width="3" height="1.2" fill="#777"/></g>
<g transform="translate(882,490.7)"><rect x="2" y="0.5" width="28" height="10" fill="#e8e8e0" stroke="#d0d0c8" stroke-width="0.6"/><rect x="0" y="10" width="31" height="16.5" fill="#f2f2ee" stroke="#d4d4cc" stroke-width="0.6"/><rect x="2" y="26" width="28" height="7" fill="#e4e4dc" stroke="#d0d0c8" stroke-width="0.6"/><circle cx="7" cy="5.5" r="1.3" fill="#666"/><circle cx="14.5" cy="6" r="1.3" fill="#666"/><circle cx="22" cy="5.5" r="1.3" fill="#666"/><circle cx="7" cy="29.5" r="1.3" fill="#777"/><circle cx="14.5" cy="29" r="1.3" fill="#777"/><circle cx="22" cy="29.5" r="1.3" fill="#777"/><path d="M2.5 18.8H14.2" stroke="#2e2e2e" stroke-width="3.4" stroke-dasharray="2.1 0.5"/><rect x="14" y="17" width="2.5" height="3.5" fill="#c03040"/><path d="M4 22.5H10" stroke="#444" stroke-width="1.8" stroke-dasharray="1.6 0.5"/><path d="M18 21.5L21 18" stroke="#777" stroke-width="0.7"/><path d="M19 13H25" stroke="#aaa" stroke-width="0.8"/><rect x="2" y="12.5" width="3" height="1.2" fill="#777"/></g>
<g transform="translate(882,560.8)"><rect x="2" y="0.5" width="28" height="10" fill="#e8e8e0" stroke="#d0d0c8" stroke-width="0.6"/><rect x="0" y="10" width="31" height="16.5" fill="#f2f2ee" stroke="#d4d4cc" stroke-width="0.6"/><rect x="2" y="26" width="28" height="7" fill="#e4e4dc" stroke="#d0d0c8" stroke-width="0.6"/><circle cx="7" cy="5.5" r="1.3" fill="#666"/><circle cx="14.5" cy="6" r="1.3" fill="#666"/><circle cx="22" cy="5.5" r="1.3" fill="#666"/><circle cx="7" cy="29.5" r="1.3" fill="#777"/><circle cx="14.5" cy="29" r="1.3" fill="#777"/><circle cx="22" cy="29.5" r="1.3" fill="#777"/><path d="M2.5 18.8H14.2" stroke="#2e2e2e" stroke-width="3.4" stroke-dasharray="2.1 0.5"/><rect x="14" y="17" width="2.5" height="3.5" fill="#c03040"/><path d="M4 22.5H10" stroke="#444" stroke-width="1.8" stroke-dasharray="1.6 0.5"/><path d="M18 21.5L21 18" stroke="#777" stroke-width="0.7"/><path d="M19 13H25" stroke="#aaa" stroke-width="0.8"/><rect x="2" y="12.5" width="3" height="1.2" fill="#777"/></g>
<g transform="translate(882,643.9)"><rect x="2" y="0.5" width="28" height="10" fill="#e8e8e0" stroke="#d0d0c8" stroke-width="0.6"/><rect x="0" y="10" width="31" height="16.5" fill="#f2f2ee" stroke="#d4d4cc" stroke-width="0.6"/><rect x="2" y="26" width="28" height="7" fill="#e4e4dc" stroke="#d0d0c8" stroke-width="0.6"/><circle cx="7" cy="5.5" r="1.3" fill="#666"/><circle cx="14.5" cy="6" r="1.3" fill="#666"/><circle cx="22" cy="5.5" r="1.3" fill="#666"/><circle cx="7" cy="29.5" r="1.3" fill="#777"/><circle cx="14.5" cy="29" r="1.3" fill="#777"/><circle cx="22" cy="29.5" r="1.3" fill="#777"/><path d="M2.5 18.8H14.2" stroke="#2e2e2e" stroke-width="3.4" stroke-dasharray="2.1 0.5"/><rect x="14" y="17" width="2.5" height="3.5" fill="#c03040"/><path d="M4 22.5H10" stroke="#444" stroke-width="1.8" stroke-dasharray="1.6 0.5"/><path d="M18 21.5L21 18" stroke="#777" stroke-width="0.7"/><path d="M19 13H25" stroke="#aaa" stroke-width="0.8"/><rect x="2" y="12.5" width="3" height="1.2" fill="#777"/></g>
<g transform="translate(882,701.9)"><rect x="2" y="0.5" width="28" height="10" fill="#e8e8e0" stroke="#d0d0c8" stroke-width="0.6"/><rect x="0" y="10" width="31" height="16.5" fill="#f2f2ee" stroke="#d4d4cc" stroke-width="0.6"/><rect x="2" y="26" width="28" height="7" fill="#e4e4dc" stroke="#d0d0c8" stroke-width="0.6"/><circle cx="7" cy="5.5" r="1.3" fill="#666"/><circle cx="14.5" cy="6" r="1.3" fill="#666"/><circle cx="22" cy="5.5" r="1.3" fill="#666"/><circle cx="7" cy="29.5" r="1.3" fill="#777"/><circle cx="14.5" cy="29" r="1.3" fill="#777"/><circle cx="22" cy="29.5" r="1.3" fill="#777"/><path d="M2.5 18.8H14.2" stroke="#2e2e2e" stroke-width="3.4" stroke-dasharray="2.1 0.5"/><rect x="14" y="17" width="2.5" height="3.5" fill="#c03040"/><path d="M4 22.5H10" stroke="#444" stroke-width="1.8" stroke-dasharray="1.6 0.5"/><path d="M18 21.5L21 18" stroke="#777" stroke-width="0.7"/><path d="M19 13H25" stroke="#aaa" stroke-width="0.8"/><rect x="2" y="12.5" width="3" height="1.2" fill="#777"/></g>
<g transform="translate(1012,490.7)"><rect x="2" y="0.5" width="28" height="10" fill="#e8e8e0" stroke="#d0d0c8" stroke-width="0.6"/><rect x="0" y="10" width="31" height="16.5" fill="#f2f2ee" stroke="#d4d4cc" stroke-width="0.6"/><rect x="2" y="26" width="28" height="7" fill="#e4e4dc" stroke="#d0d0c8" stroke-width="0.6"/><circle cx="7" cy="5.5" r="1.3" fill="#666"/><circle cx="14.5" cy="6" r="1.3" fill="#666"/><circle cx="22" cy="5.5" r="1.3" fill="#666"/><circle cx="7" cy="29.5" r="1.3" fill="#777"/><circle cx="14.5" cy="29" r="1.3" fill="#777"/><circle cx="22" cy="29.5" r="1.3" fill="#777"/><path d="M2.5 18.8H14.2" stroke="#2e2e2e" stroke-width="3.4" stroke-dasharray="2.1 0.5"/><rect x="14" y="17" width="2.5" height="3.5" fill="#c03040"/><path d="M4 22.5H10" stroke="#444" stroke-width="1.8" stroke-dasharray="1.6 0.5"/><path d="M18 21.5L21 18" stroke="#777" stroke-width="0.7"/><path d="M19 13H25" stroke="#aaa" stroke-width="0.8"/><rect x="2" y="12.5" width="3" height="1.2" fill="#777"/></g>
<g transform="translate(1012,560.8)"><rect x="2" y="0.5" width="28" height="10" fill="#e8e8e0" stroke="#d0d0c8" stroke-width="0.6"/><rect x="0" y="10" width="31" height="16.5" fill="#f2f2ee" stroke="#d4d4cc" stroke-width="0.6"/><rect x="2" y="26" width="28" height="7" fill="#e4e4dc" stroke="#d0d0c8" stroke-width="0.6"/><circle cx="7" cy="5.5" r="1.3" fill="#666"/><circle cx="14.5" cy="6" r="1.3" fill="#666"/><circle cx="22" cy="5.5" r="1.3" fill="#666"/><circle cx="7" cy="29.5" r="1.3" fill="#777"/><circle cx="14.5" cy="29" r="1.3" fill="#777"/><circle cx="22" cy="29.5" r="1.3" fill="#777"/><path d="M2.5 18.8H14.2" stroke="#2e2e2e" stroke-width="3.4" stroke-dasharray="2.1 0.5"/><rect x="14" y="17" width="2.5" height="3.5" fill="#c03040"/><path d="M4 22.5H10" stroke="#444" stroke-width="1.8" stroke-dasharray="1.6 0.5"/><path d="M18 21.5L21 18" stroke="#777" stroke-width="0.7"/><path d="M19 13H25" stroke="#aaa" stroke-width="0.8"/><rect x="2" y="12.5" width="3" height="1.2" fill="#777"/></g>
<g transform="translate(1012,642.5)"><rect x="2" y="0.5" width="28" height="10" fill="#e8e8e0" stroke="#d0d0c8" stroke-width="0.6"/><rect x="0" y="10" width="31" height="16.5" fill="#f2f2ee" stroke="#d4d4cc" stroke-width="0.6"/><rect x="2" y="26" width="28" height="7" fill="#e4e4dc" stroke="#d0d0c8" stroke-width="0.6"/><circle cx="7" cy="5.5" r="1.3" fill="#666"/><circle cx="14.5" cy="6" r="1.3" fill="#666"/><circle cx="22" cy="5.5" r="1.3" fill="#666"/><circle cx="7" cy="29.5" r="1.3" fill="#777"/><circle cx="14.5" cy="29" r="1.3" fill="#777"/><circle cx="22" cy="29.5" r="1.3" fill="#777"/><path d="M2.5 18.8H14.2" stroke="#2e2e2e" stroke-width="3.4" stroke-dasharray="2.1 0.5"/><rect x="14" y="17" width="2.5" height="3.5" fill="#c03040"/><path d="M4 22.5H10" stroke="#444" stroke-width="1.8" stroke-dasharray="1.6 0.5"/><path d="M18 21.5L21 18" stroke="#777" stroke-width="0.7"/><path d="M19 13H25" stroke="#aaa" stroke-width="0.8"/><rect x="2" y="12.5" width="3" height="1.2" fill="#777"/></g>
<g transform="translate(1012,701.9)"><rect x="2" y="0.5" width="28" height="10" fill="#e8e8e0" stroke="#d0d0c8" stroke-width="0.6"/><rect x="0" y="10" width="31" height="16.5" fill="#f2f2ee" stroke="#d4d4cc" stroke-width="0.6"/><rect x="2" y="26" width="28" height="7" fill="#e4e4dc" stroke="#d0d0c8" stroke-width="0.6"/><circle cx="7" cy="5.5" r="1.3" fill="#666"/><circle cx="14.5" cy="6" r="1.3" fill="#666"/><circle cx="22" cy="5.5" r="1.3" fill="#666"/><circle cx="7" cy="29.5" r="1.3" fill="#777"/><circle cx="14.5" cy="29" r="1.3" fill="#777"/><circle cx="22" cy="29.5" r="1.3" fill="#777"/><path d="M2.5 18.8H14.2" stroke="#2e2e2e" stroke-width="3.4" stroke-dasharray="2.1 0.5"/><rect x="14" y="17" width="2.5" height="3.5" fill="#c03040"/><path d="M4 22.5H10" stroke="#444" stroke-width="1.8" stroke-dasharray="1.6 0.5"/><path d="M18 21.5L21 18" stroke="#777" stroke-width="0.7"/><path d="M19 13H25" stroke="#aaa" stroke-width="0.8"/><rect x="2" y="12.5" width="3" height="1.2" fill="#777"/></g>
<g transform="translate(0,0)">
<polygon points="699,458 722.5,457.8 725.5,460 725.5,490 699,490" fill="#d9dbdd"/>
<polygon points="721,458 725.5,460 725.5,490 721,490" fill="#b8babc"/>
<rect x="703" y="461" width="10.5" height="6.5" fill="#9ccc84" stroke="#6a7a6a" stroke-width="0.7"/>
<rect x="701.5" y="474.5" width="8" height="4.5" fill="#eef0f4" stroke="#8a9aaa" stroke-width="0.5"/>
<rect x="703" y="483" width="19" height="6.8" fill="#3a3a3a"/>
<path d="M705 486.4H720" stroke="#888" stroke-width="0.8" stroke-dasharray="2 1.5"/>
<path d="M698.9 510.9 Q699.5 505.5 705 503.5 L711 502.6 Q718 503 721.1 514 L726.8 524.9 L715.4 533.1 L707.8 521.7 Q699 518 698.9 510.9Z" fill="#c2d2ce" stroke="#a8bab4" stroke-width="0.5"/>
<polygon points="705.8,512.2 716.2,506.8 719,512.4 708.6,517.6" fill="#4c5a54"/>
<path d="M714 522.5 L719 520" stroke="#7a9a90" stroke-width="1.6"/>
<ellipse cx="701.5" cy="505.2" rx="3.6" ry="2.6" transform="rotate(-35 701.5 505.2)" fill="#2f4fa8"/>
<ellipse cx="719.5" cy="534.1" rx="3.4" ry="2.4" transform="rotate(-35 719.5 534.1)" fill="#2f4fa8"/>
<path d="M708 565 L704 576 M713 566 L711 577 M717 566 L719 577 M721 565 L725 575 M703 572 Q714 580 727 571" stroke="#b4b4b4" stroke-width="1" fill="none"/>
<rect x="719.5" y="555.5" width="9" height="13" fill="#1f2a78"/>
<rect x="705.5" y="550.7" width="17" height="14.3" fill="#ececec" stroke="#c8c8c8" stroke-width="0.5"/>
<rect x="708.5" y="553.8" width="11.5" height="3.8" fill="#b9beb4"/>
<circle cx="717.2" cy="561.1" r="1.5" fill="#d83838"/>
<ellipse cx="700.4" cy="561.3" rx="5.1" ry="11.3" fill="#22318c"/>
<ellipse cx="701.8" cy="561.3" rx="2.6" ry="9" fill="#1a2670"/>
<ellipse cx="730.4" cy="561.3" rx="3.7" ry="11.2" fill="#2436a0"/>
</g>
<g transform="translate(425.5,0)">
<polygon points="699,458 722.5,457.8 725.5,460 725.5,490 699,490" fill="#d9dbdd"/>
<polygon points="721,458 725.5,460 725.5,490 721,490" fill="#b8babc"/>
<rect x="703" y="461" width="10.5" height="6.5" fill="#9ccc84" stroke="#6a7a6a" stroke-width="0.7"/>
<rect x="701.5" y="474.5" width="8" height="4.5" fill="#eef0f4" stroke="#8a9aaa" stroke-width="0.5"/>
<rect x="703" y="483" width="19" height="6.8" fill="#3a3a3a"/>
<path d="M705 486.4H720" stroke="#888" stroke-width="0.8" stroke-dasharray="2 1.5"/>
<path d="M698.9 510.9 Q699.5 505.5 705 503.5 L711 502.6 Q718 503 721.1 514 L726.8 524.9 L715.4 533.1 L707.8 521.7 Q699 518 698.9 510.9Z" fill="#c2d2ce" stroke="#a8bab4" stroke-width="0.5"/>
<polygon points="705.8,512.2 716.2,506.8 719,512.4 708.6,517.6" fill="#4c5a54"/>
<path d="M714 522.5 L719 520" stroke="#7a9a90" stroke-width="1.6"/>
<ellipse cx="701.5" cy="505.2" rx="3.6" ry="2.6" transform="rotate(-35 701.5 505.2)" fill="#2f4fa8"/>
<ellipse cx="719.5" cy="534.1" rx="3.4" ry="2.4" transform="rotate(-35 719.5 534.1)" fill="#2f4fa8"/>
<path d="M708 565 L704 576 M713 566 L711 577 M717 566 L719 577 M721 565 L725 575 M703 572 Q714 580 727 571" stroke="#b4b4b4" stroke-width="1" fill="none"/>
<rect x="719.5" y="555.5" width="9" height="13" fill="#1f2a78"/>
<rect x="705.5" y="550.7" width="17" height="14.3" fill="#ececec" stroke="#c8c8c8" stroke-width="0.5"/>
<rect x="708.5" y="553.8" width="11.5" height="3.8" fill="#b9beb4"/>
<circle cx="717.2" cy="561.1" r="1.5" fill="#d83838"/>
<ellipse cx="700.4" cy="561.3" rx="5.1" ry="11.3" fill="#22318c"/>
<ellipse cx="701.8" cy="561.3" rx="2.6" ry="9" fill="#1a2670"/>
<ellipse cx="730.4" cy="561.3" rx="3.7" ry="11.2" fill="#2436a0"/>
</g>
<circle cx="481.5" cy="602.2" r="1.6" fill="#111"/>
<circle cx="481.5" cy="609.3" r="1.6" fill="#111"/>
<circle cx="481.5" cy="616" r="1.6" fill="#111"/>
<circle cx="614.6" cy="602.2" r="1.6" fill="#111"/>
<circle cx="614.6" cy="609.3" r="1.6" fill="#111"/>
<circle cx="614.6" cy="616" r="1.6" fill="#111"/>
<circle cx="901.5" cy="602.2" r="1.6" fill="#111"/>
<circle cx="901.5" cy="609.3" r="1.6" fill="#111"/>
<circle cx="901.5" cy="616" r="1.6" fill="#111"/>
<circle cx="1034.6" cy="602.2" r="1.6" fill="#111"/>
<circle cx="1034.6" cy="609.3" r="1.6" fill="#111"/>
<circle cx="1034.6" cy="616" r="1.6" fill="#111"/>
<g font-family="Liberation Sans, sans-serif">
<g stroke="#888" stroke-width="0.12">
<text x="245.8" y="31" font-size="16" fill="#888" text-anchor="middle" textLength="110.8" lengthAdjust="spacingAndGlyphs" >Monitoring host</text>
<text x="518.6" y="31" font-size="16" fill="#888" text-anchor="middle" textLength="110.4" lengthAdjust="spacingAndGlyphs" >Monitoring host</text>
<text x="751.5" y="31" font-size="16.2" fill="#888" text-anchor="middle" textLength="48.1" lengthAdjust="spacingAndGlyphs" >Printer</text>
<text x="1000.9" y="30.8" font-size="16" fill="#888" text-anchor="middle" textLength="28.3" lengthAdjust="spacingAndGlyphs" >UPS</text>
<text x="1166.8" y="105.6" font-size="15.8" fill="#888" text-anchor="middle" textLength="39.6" lengthAdjust="spacingAndGlyphs" >Other</text>
<text x="1168" y="123.8" font-size="15.8" fill="#888" text-anchor="middle" textLength="56.1" lengthAdjust="spacingAndGlyphs" >systems</text>
</g>
<text transform="translate(50.2,71.6) rotate(90)" font-size="15.8" fill="#909090" text-anchor="middle" textLength="79.4" lengthAdjust="spacingAndGlyphs">Application</text>
<text transform="translate(30.2,73.7) rotate(90)" font-size="15.8" fill="#909090" text-anchor="middle" textLength="132.6" lengthAdjust="spacingAndGlyphs">management layer</text>
<text transform="translate(50.2,283.5) rotate(90)" font-size="15.8" fill="#909090" text-anchor="middle" textLength="59.8" lengthAdjust="spacingAndGlyphs">Network</text>
<text transform="translate(30.2,284) rotate(90)" font-size="15.8" fill="#909090" text-anchor="middle" textLength="150.4" lengthAdjust="spacingAndGlyphs">communication layer</text>
<text transform="translate(40,537) rotate(90)" font-size="15.8" fill="#909090" text-anchor="middle" textLength="121" lengthAdjust="spacingAndGlyphs">Field device layer</text>
<g stroke="#414141" stroke-width="0.25">
<text x="185.4" y="183.8" font-size="15" fill="#414141" text-anchor="start" textLength="26.4" lengthAdjust="spacingAndGlyphs" >LAN</text>
<text x="729.8" y="252.7" font-size="15.7" fill="#414141" text-anchor="start" textLength="46.2" lengthAdjust="spacingAndGlyphs" >Switch</text>
<text x="329.8" y="366" font-size="13.2" fill="#414141" text-anchor="middle" textLength="90" lengthAdjust="spacingAndGlyphs" >Communication</text>
<text x="329.8" y="383.6" font-size="13.2" fill="#414141" text-anchor="middle" textLength="49.4" lengthAdjust="spacingAndGlyphs" >manager</text>
<text x="639" y="366" font-size="13.2" fill="#414141" text-anchor="middle" textLength="90" lengthAdjust="spacingAndGlyphs" >Communication</text>
<text x="639" y="383.6" font-size="13.2" fill="#414141" text-anchor="middle" textLength="49.4" lengthAdjust="spacingAndGlyphs" >manager</text>
<text x="1058.7" y="366" font-size="13.2" fill="#414141" text-anchor="middle" textLength="90" lengthAdjust="spacingAndGlyphs" >Communication</text>
<text x="1058.7" y="383.6" font-size="13.2" fill="#414141" text-anchor="middle" textLength="49.4" lengthAdjust="spacingAndGlyphs" >manager</text>
<text x="147.8" y="443.6" font-size="15.6" fill="#414141" text-anchor="start" textLength="46.8" lengthAdjust="spacingAndGlyphs" >RS-485</text>
<text x="163.6" y="479" font-size="12.5" fill="#414141" text-anchor="start" textLength="61.6" lengthAdjust="spacingAndGlyphs" >10KV Meter</text>
<text x="163.6" y="552" font-size="12.5" fill="#414141" text-anchor="start" textLength="61.6" lengthAdjust="spacingAndGlyphs" >10KV Meter</text>
<text x="163.6" y="623.8" font-size="12.5" fill="#414141" text-anchor="start" textLength="61.6" lengthAdjust="spacingAndGlyphs" >10KV Meter</text>
<text x="163.6" y="695" font-size="12.5" fill="#414141" text-anchor="start" textLength="61.6" lengthAdjust="spacingAndGlyphs" >10KV Meter</text>
<text x="293.1" y="479" font-size="12.5" fill="#414141" text-anchor="start" textLength="61.6" lengthAdjust="spacingAndGlyphs" >10KV Meter</text>
<text x="293.1" y="552" font-size="12.5" fill="#414141" text-anchor="start" textLength="61.6" lengthAdjust="spacingAndGlyphs" >10KV Meter</text>
<text x="293.1" y="623.8" font-size="12.5" fill="#414141" text-anchor="start" textLength="61.6" lengthAdjust="spacingAndGlyphs" >10KV Meter</text>
<text x="293.1" y="695" font-size="12.5" fill="#414141" text-anchor="start" textLength="61.6" lengthAdjust="spacingAndGlyphs" >10KV Meter</text>
<text x="479.7" y="470.6" font-size="12.9" fill="#414141" text-anchor="middle" textLength="68.2" lengthAdjust="spacingAndGlyphs" >Low-voltage</text>
<text x="479.7" y="482.90000000000003" font-size="12.9" fill="#414141" text-anchor="middle" textLength="32.8" lengthAdjust="spacingAndGlyphs" >meter</text>
<text x="479.7" y="544" font-size="12.9" fill="#414141" text-anchor="middle" textLength="68.2" lengthAdjust="spacingAndGlyphs" >Low-voltage</text>
<text x="479.7" y="556.3" font-size="12.9" fill="#414141" text-anchor="middle" textLength="32.8" lengthAdjust="spacingAndGlyphs" >meter</text>
<text x="479.7" y="625" font-size="12.9" fill="#414141" text-anchor="middle" textLength="68.2" lengthAdjust="spacingAndGlyphs" >Low-voltage</text>
<text x="479.7" y="637.3" font-size="12.9" fill="#414141" text-anchor="middle" textLength="32.8" lengthAdjust="spacingAndGlyphs" >meter</text>
<text x="479.7" y="686" font-size="12.9" fill="#414141" text-anchor="middle" textLength="68.2" lengthAdjust="spacingAndGlyphs" >Low-voltage</text>
<text x="479.7" y="698.3" font-size="12.9" fill="#414141" text-anchor="middle" textLength="32.8" lengthAdjust="spacingAndGlyphs" >meter</text>
<text x="616.9" y="473.7" font-size="12.9" fill="#414141" text-anchor="middle" textLength="68.2" lengthAdjust="spacingAndGlyphs" >Low-voltage</text>
<text x="616.9" y="486.0" font-size="12.9" fill="#414141" text-anchor="middle" textLength="32.8" lengthAdjust="spacingAndGlyphs" >meter</text>
<text x="616.9" y="544" font-size="12.9" fill="#414141" text-anchor="middle" textLength="68.2" lengthAdjust="spacingAndGlyphs" >Low-voltage</text>
<text x="616.9" y="556.3" font-size="12.9" fill="#414141" text-anchor="middle" textLength="32.8" lengthAdjust="spacingAndGlyphs" >meter</text>
<text x="616.9" y="627" font-size="12.9" fill="#414141" text-anchor="middle" textLength="68.2" lengthAdjust="spacingAndGlyphs" >Low-voltage</text>
<text x="616.9" y="639.3" font-size="12.9" fill="#414141" text-anchor="middle" textLength="32.8" lengthAdjust="spacingAndGlyphs" >meter</text>
<text x="616.9" y="686" font-size="12.9" fill="#414141" text-anchor="middle" textLength="68.2" lengthAdjust="spacingAndGlyphs" >Low-voltage</text>
<text x="616.9" y="698.3" font-size="12.9" fill="#414141" text-anchor="middle" textLength="32.8" lengthAdjust="spacingAndGlyphs" >meter</text>
<text x="904" y="468.6" font-size="12.5" fill="#414141" text-anchor="middle" textLength="71.7" lengthAdjust="spacingAndGlyphs" >Single-phase</text>
<text x="905.6" y="484.6" font-size="12.5" fill="#414141" text-anchor="middle" textLength="76.4" lengthAdjust="spacingAndGlyphs" >DIN rail meter</text>
<text x="904" y="540.9" font-size="12.5" fill="#414141" text-anchor="middle" textLength="71.7" lengthAdjust="spacingAndGlyphs" >Single-phase</text>
<text x="905.6" y="556.9" font-size="12.5" fill="#414141" text-anchor="middle" textLength="76.4" lengthAdjust="spacingAndGlyphs" >DIN rail meter</text>
<text x="904" y="626.6" font-size="12.5" fill="#414141" text-anchor="middle" textLength="71.7" lengthAdjust="spacingAndGlyphs" >Single-phase</text>
<text x="905.6" y="642.6" font-size="12.5" fill="#414141" text-anchor="middle" textLength="76.4" lengthAdjust="spacingAndGlyphs" >DIN rail meter</text>
<text x="904" y="684.6" font-size="12.5" fill="#414141" text-anchor="middle" textLength="71.7" lengthAdjust="spacingAndGlyphs" >Single-phase</text>
<text x="905.6" y="700.6" font-size="12.5" fill="#414141" text-anchor="middle" textLength="76.4" lengthAdjust="spacingAndGlyphs" >DIN rail meter</text>
<text x="1033.2" y="468.6" font-size="12.5" fill="#414141" text-anchor="middle" textLength="71.7" lengthAdjust="spacingAndGlyphs" >Single-phase</text>
<text x="1034.8" y="484.6" font-size="12.5" fill="#414141" text-anchor="middle" textLength="76.4" lengthAdjust="spacingAndGlyphs" >DIN rail meter</text>
<text x="1033.2" y="538.9" font-size="12.5" fill="#414141" text-anchor="middle" textLength="71.7" lengthAdjust="spacingAndGlyphs" >Single-phase</text>
<text x="1034.8" y="554.9" font-size="12.5" fill="#414141" text-anchor="middle" textLength="76.4" lengthAdjust="spacingAndGlyphs" >DIN rail meter</text>
<text x="1033.2" y="625.6" font-size="12.5" fill="#414141" text-anchor="middle" textLength="71.7" lengthAdjust="spacingAndGlyphs" >Single-phase</text>
<text x="1034.8" y="641.6" font-size="12.5" fill="#414141" text-anchor="middle" textLength="76.4" lengthAdjust="spacingAndGlyphs" >DIN rail meter</text>
<text x="1033.2" y="684.6" font-size="12.5" fill="#414141" text-anchor="middle" textLength="71.7" lengthAdjust="spacingAndGlyphs" >Single-phase</text>
<text x="1034.8" y="700.6" font-size="12.5" fill="#414141" text-anchor="middle" textLength="76.4" lengthAdjust="spacingAndGlyphs" >DIN rail meter</text>
<text x="738.9" y="478.7" font-size="12.6" fill="#414141" text-anchor="start" textLength="56.3" lengthAdjust="spacingAndGlyphs" >Gas meter</text>
<text x="740.1" y="523.9" font-size="12.6" fill="#414141" text-anchor="start" textLength="68.3" lengthAdjust="spacingAndGlyphs" >Water meter</text>
<text x="738.2" y="570.6" font-size="12.6" fill="#414141" text-anchor="start" textLength="62" lengthAdjust="spacingAndGlyphs" >Heat meter</text>
<text x="1167.4" y="478.7" font-size="12.6" fill="#414141" text-anchor="start" textLength="56.3" lengthAdjust="spacingAndGlyphs" >Gas meter</text>
<text x="1168.6" y="523.9" font-size="12.6" fill="#414141" text-anchor="start" textLength="68.3" lengthAdjust="spacingAndGlyphs" >Water meter</text>
<text x="1166.7" y="570.6" font-size="12.6" fill="#414141" text-anchor="start" textLength="62" lengthAdjust="spacingAndGlyphs" >Heat meter</text>
</g>
</g>
</svg>
</body></html>
